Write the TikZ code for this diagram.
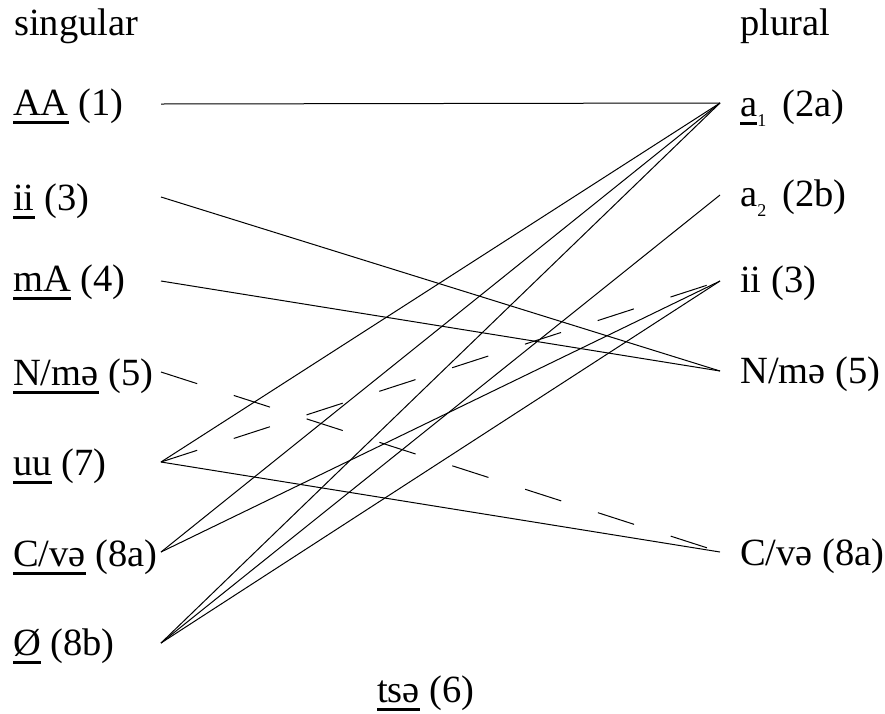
\documentclass[tikz,border=0pt]{standalone}
\usepackage{fontspec}
\setmainfont{Liberation Serif}
\newsavebox{\ulbox}
\newcommand{\ulx}[1]{\sbox{\ulbox}{#1}\rlap{\rule[-9pt]{\wd\ulbox}{2.6pt}}\usebox{\ulbox}}
\begin{document}
\begin{tikzpicture}[x=1pt,y=-1pt,
  lab/.style={anchor=base west,inner sep=0pt,font=\fontsize{38.5}{46}\selectfont},
  link/.style={line width=1pt},
  dlink/.style={line width=1pt,dash pattern=on 38pt off 38.5pt}]
\useasboundingbox (0,0) rectangle (885,713);
\newcommand{\sbs}[1]{\raisebox{-10pt}{\fontsize{18}{18}\selectfont #1}}
% headings
\node[lab] (sg) at (14,35) {singular};
\node[lab] (pl) at (740,35) {plural};
% left labels
\node[lab] (tAA) at (13,115) {\ulx{AA} (1)};
\node[lab] (tii) at (13,210) {\ulx{ii} (3)};
\node[lab] (tmA) at (13,291) {\ulx{mA} (4)};
\node[lab] (tNm) at (13,385) {\ulx{N/mə} (5)};
\node[lab] (tuu) at (13,475) {\ulx{uu} (7)};
\node[lab] (tCv) at (13,566) {\ulx{C/və} (8a)};
\node[lab] (tO) at (13,655) {\ulx{Ø} (8b)};
% right labels
\node[lab] (ra1) at (740,116) {\ulx{a}\sbs{1}\, (2a)};
\node[lab] (ra2) at (740,206) {a\sbs{2}\, (2b)};
\node[lab] (rii) at (740,292) {ii (3)};
\node[lab] (rNm) at (740,383) {N/mə (5)};
\node[lab] (rCv) at (740,565) {C/və (8a)};
% bottom
\node[lab] (tts) at (377,702) {\ulx{tsə} (6)};
% endpoints
\coordinate (LAA) at (161,104);
\coordinate (Lii) at (161,197);
\coordinate (LmA) at (161,281);
\coordinate (LNm) at (161,372);
\coordinate (Luu) at (161,462);
\coordinate (LCv) at (161,552);
\coordinate (LO)  at (161,643);
\coordinate (Ra1) at (720,103);
\coordinate (Ra2) at (720,195);
\coordinate (Rii) at (720,281);
\coordinate (RNm) at (720,371);
\coordinate (RCv) at (720,552);
% connectors
\draw[link] (LAA) -- (Ra1);
\draw[link] (Lii) -- (RNm);
\draw[link] (LmA) -- (RNm);
\draw[dlink] (LNm) -- (RCv);
\draw[link] (Luu) -- (Ra1);
\draw[dlink] (Luu) -- (Rii);
\draw[link] (Luu) -- (RCv);
\draw[link] (LCv) -- (Ra1);
\draw[link] (LCv) -- (Rii);
\draw[link] (LO) -- (Ra1);
\draw[link] (LO) -- (Ra2);
\draw[link] (LO) -- (Rii);
\end{tikzpicture}
\end{document}
